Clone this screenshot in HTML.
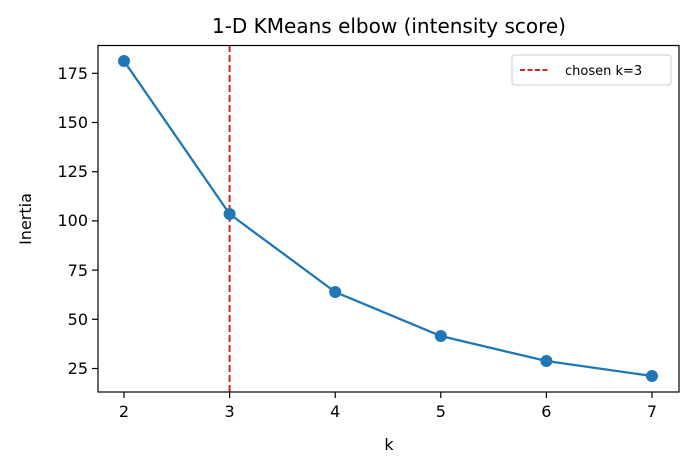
<!DOCTYPE html>
<html><head><style>body{margin:0;background:#fff}</style></head><body>
<svg width="693" height="470" xmlns="http://www.w3.org/2000/svg" font-family="DejaVu Sans, Liberation Sans, sans-serif">
<rect width="693" height="470" fill="#fff"/>
<text x="389" y="33" font-size="20" text-anchor="middle" fill="#000">1-D KMeans elbow (intensity score)</text>
<line x1="229.6" y1="45" x2="229.6" y2="392" stroke="#d62728" stroke-width="2" stroke-dasharray="7,3"/>
<polyline fill="none" stroke="#1f77b4" stroke-width="2.3" points="124,61 229.6,214 335.2,292 440.8,336 546.4,361 652,376"/>
<g fill="#1f77b4">
<circle cx="124" cy="61" r="6"/><circle cx="229.6" cy="214" r="6"/><circle cx="335.2" cy="292" r="6"/><circle cx="440.8" cy="336" r="6"/><circle cx="546.4" cy="361" r="6"/><circle cx="652" cy="376" r="6"/>
</g>
<rect x="98" y="45.5" width="581" height="346.5" fill="none" stroke="#000" stroke-width="1.2"/>
<g stroke="#000" stroke-width="1.2">
<line x1="124" y1="392" x2="124" y2="398"/><line x1="229.6" y1="392" x2="229.6" y2="398"/><line x1="335.2" y1="392" x2="335.2" y2="398"/><line x1="440.8" y1="392" x2="440.8" y2="398"/><line x1="546.4" y1="392" x2="546.4" y2="398"/><line x1="652" y1="392" x2="652" y2="398"/>
<line x1="92" y1="73.3" x2="98" y2="73.3"/><line x1="92" y1="122.5" x2="98" y2="122.5"/><line x1="92" y1="171.7" x2="98" y2="171.7"/><line x1="92" y1="220.9" x2="98" y2="220.9"/><line x1="92" y1="270.1" x2="98" y2="270.1"/><line x1="92" y1="319.3" x2="98" y2="319.3"/><line x1="92" y1="368.5" x2="98" y2="368.5"/>
</g>
<g font-size="16" text-anchor="middle" fill="#000">
<text x="124" y="417">2</text><text x="229.6" y="417">3</text><text x="335.2" y="417">4</text><text x="440.8" y="417">5</text><text x="546.4" y="417">6</text><text x="652" y="417">7</text>
<text x="389" y="450">k</text>
</g>
<g font-size="16" text-anchor="end" fill="#000">
<text x="88" y="79">175</text><text x="88" y="128">150</text><text x="88" y="177">125</text><text x="88" y="226">100</text><text x="88" y="276">75</text><text x="88" y="325">50</text><text x="88" y="374">25</text>
</g>
<text transform="translate(31,219) rotate(-90)" font-size="16" text-anchor="middle" fill="#000">Inertia</text>
<rect x="512" y="55" width="159" height="30" rx="3" fill="#fff" stroke="#ccc"/>
<line x1="520" y1="70" x2="548" y2="70" stroke="#d62728" stroke-width="2" stroke-dasharray="5,2.5"/>
<text x="565" y="75" font-size="13" fill="#000">chosen k=3</text>
</svg>
</body></html>
